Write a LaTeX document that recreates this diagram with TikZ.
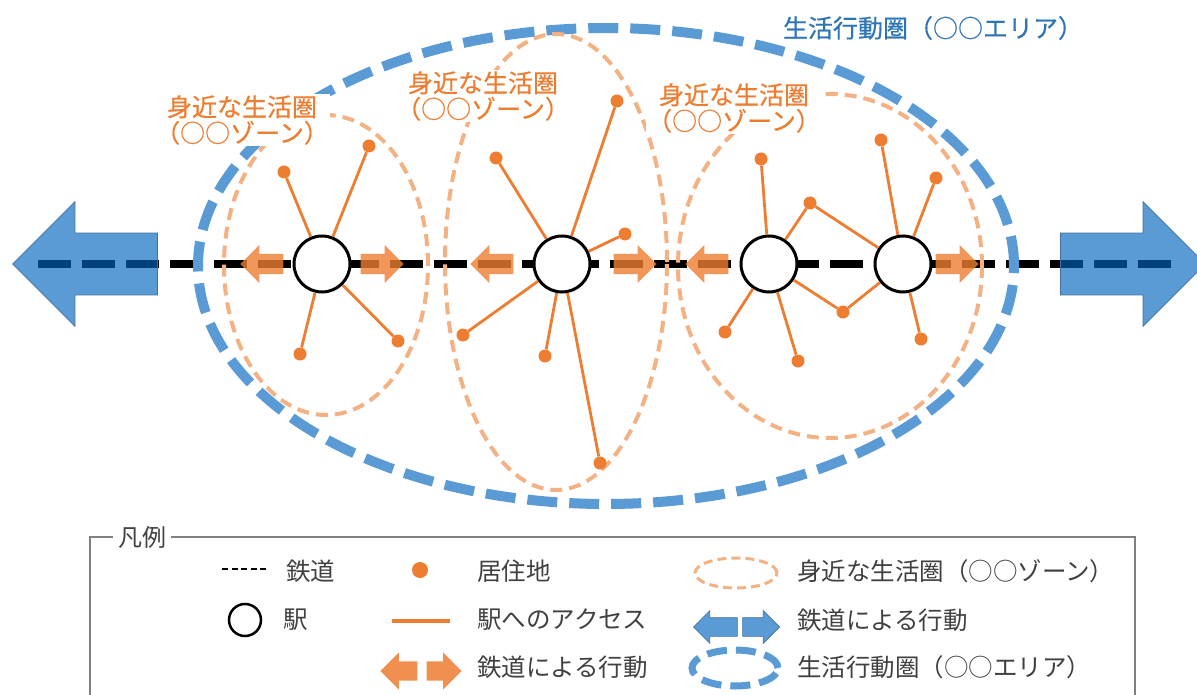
\documentclass[tikz,border=0pt]{standalone}
\usepackage{fontspec}
\setmainfont{Noto Sans CJK JP}
\newfontfamily\labelfont{Noto Sans CJK JP}[FakeBold=0.4]
\usepackage{tikz}
\usetikzlibrary{positioning,shapes.geometric,shapes.arrows}
\definecolor{accessorange}{HTML}{ED7D31}
\definecolor{zoneorange}{HTML}{F4B183}
\definecolor{areablue}{HTML}{5B9BD5}
\definecolor{trainblue}{HTML}{0365BE}
\definecolor{arrowedge}{HTML}{41719C}
\definecolor{labelblue}{HTML}{2E75B6}
\definecolor{legendgray}{HTML}{404040}

\begin{document}
\begin{tikzpicture}[x=1pt, y=-1pt,
  station/.style={circle, draw=black, line width=3pt, fill=white, minimum size=56pt, inner sep=0pt},
  home/.style={circle, fill=accessorange, minimum size=13pt, inner sep=0pt},
  access/.style={accessorange, line width=2.8pt},
  zone/.style={ellipse, draw=zoneorange, line width=4pt, dash pattern=on 12pt off 7pt, inner sep=0pt},
  area/.style={ellipse, draw=areablue, line width=10pt, dash pattern=on 30pt off 12pt, inner sep=0pt},
  rail/.style={black, line width=8pt, dash pattern=on 33pt off 11pt},
  railmove/.style={single arrow, fill=accessorange, fill opacity=0.8, minimum height=43pt, minimum width=38pt, single arrow head extend=9pt, inner xsep=0pt, inner ysep=10pt, anchor=tip},
  trainmove/.style={single arrow, fill=trainblue, fill opacity=0.65, draw=arrowedge, line width=0.8pt, minimum height=145pt, minimum width=124pt, single arrow head extend=31.5pt, inner xsep=0pt, inner ysep=30.5pt},
  zonelabel/.style={fill=white, text=accessorange, align=center, font=\labelfont\fontsize{25}{26}\selectfont, inner sep=1pt},
  arealabel/.style={fill=white, text=labelblue, font=\labelfont\fontsize{25}{26}\selectfont, inner sep=2pt},
  legtext/.style={text=legendgray, font=\fontsize{24.5}{26}\selectfont, anchor=west, inner sep=0pt}
]
  \useasboundingbox (0,0) rectangle (1197,695);

  % railway
  \coordinate (railW) at (38,264);
  \coordinate (railE) at (1176,264);
  \draw[rail] (railW) -- (railE);

  % living areas
  \node[area, minimum width=816pt, minimum height=476pt] (area) at (606,266) {};
  \node[zone, minimum width=204pt, minimum height=300pt] (zone1) at (326,265) {};
  \node[zone, minimum width=222pt, minimum height=456pt] (zone2) at (556,262) {};
  \node[zone, minimum width=304pt, minimum height=344pt] (zone3) at (830,266) {};

  \node[arealabel] (arealab) at (933,28) {生活行動圏（○○エリア）};
  \node[zonelabel] (zonelab1) at (242,120) {身近な生活圏\\（○○ゾーン）};
  \node[zonelabel] (zonelab2) at (483,96) {身近な生活圏\\（○○ゾーン）};
  \node[zonelabel] (zonelab3) at (734,108) {身近な生活圏\\（○○ゾーン）};

  % stations and homes
  \node[station] (s1) at (322,264) {};
  \node[station] (s2) at (562,264) {};
  \node[station] (s3) at (769,264) {};
  \node[station] (s4) at (903,264) {};

  \node[home] (h11) at (284,172) {};
  \node[home] (h12) at (369,146) {};
  \node[home] (h13) at (300,354) {};
  \node[home] (h14) at (398,341) {};
  \node[home] (h21) at (496,158) {};
  \node[home] (h22) at (617,101) {};
  \node[home] (h23) at (625,234) {};
  \node[home] (h24) at (463,335) {};
  \node[home] (h25) at (545,356) {};
  \node[home] (h26) at (600,463) {};
  \node[home] (h31) at (761,159) {};
  \node[home] (h32) at (810,203) {};
  \node[home] (h33) at (725,332) {};
  \node[home] (h34) at (798,361) {};
  \node[home] (h35) at (843,312) {};
  \node[home] (h41) at (881,140) {};
  \node[home] (h42) at (936,178) {};
  \node[home] (h43) at (921,339) {};

  \draw[access] (s1) -- (h11);
  \draw[access] (s1) -- (h12);
  \draw[access] (s1) -- (h13);
  \draw[access] (s1) -- (h14);
  \draw[access] (s2) -- (h21);
  \draw[access] (s2) -- (h22);
  \draw[access] (s2) -- (h23);
  \draw[access] (s2) -- (h24);
  \draw[access] (s2) -- (h25);
  \draw[access] (s2) -- (h26);
  \draw[access] (s3) -- (h31);
  \draw[access] (s3) -- (h32);
  \draw[access] (s3) -- (h33);
  \draw[access] (s3) -- (h34);
  \draw[access] (s3) -- (h35);
  \draw[access] (s4) -- (h32);
  \draw[access] (s4) -- (h35);
  \draw[access] (s4) -- (h41);
  \draw[access] (s4) -- (h42);
  \draw[access] (s4) -- (h43);

  % moves by rail
  \node[railmove, shape border rotate=180] (m1w) at (240,264) {};
  \node[railmove] (m1e) at (404,264) {};
  \node[railmove, shape border rotate=180] (m2w) at (470,264) {};
  \node[railmove] (m2e) at (657,264) {};
  \node[railmove, shape border rotate=180] (m3w) at (685,264) {};
  \node[railmove] (m4e) at (979,264) {};

  \node[trainmove, shape border rotate=180, anchor=tip] (trainW) at (12,264) {};
  \node[trainmove, anchor=tail] (trainE) at (1060,264) {};

  % legend
  \draw[gray, line width=1.2pt] (90,700) |- (1135,537) -- (1135,700);
  \node[text=legendgray, font=\fontsize{24}{26}\selectfont, fill=white, inner sep=5pt] (legtitle) at (142,537) {凡例};

  \coordinate (lrailA) at (222,569);
  \coordinate (lrailB) at (268,569);
  \draw[black, line width=2pt, dash pattern=on 6pt off 3.5pt] (lrailA) -- (lrailB);
  \node[legtext] (lrailtxt) at (286,571) {鉄道};
  \node[home, minimum size=16pt] (lhome) at (420,570) {};
  \node[legtext] (lhometxt) at (477,571) {居住地};
  \node[zone, line width=3pt, dash pattern=on 9pt off 5pt, minimum width=82pt, minimum height=30pt] (lzone) at (736,573) {};
  \node[legtext] (lzonetxt) at (797,571) {身近な生活圏（○○ゾーン）};

  \node[station, line width=2.5pt, minimum size=32pt] (lstation) at (245,620) {};
  \node[legtext] (lstationtxt) at (283,620) {駅};
  \coordinate (laccA) at (392,621);
  \coordinate (laccB) at (450,621);
  \draw[access, line width=4pt] (laccA) -- (laccB);
  \node[legtext] (lacctxt) at (477,620) {駅へのアクセス};
  \node[railmove, fill=areablue, fill opacity=1, draw=arrowedge, line width=0.6pt, minimum height=44pt, minimum width=32pt, single arrow head extend=7pt, inner ysep=9pt, shape border rotate=180] (ltrainW) at (693,627) {};
  \node[railmove, fill=areablue, fill opacity=1, draw=arrowedge, line width=0.6pt, minimum height=37pt, minimum width=32pt, single arrow head extend=7pt, inner ysep=9pt] (ltrainE) at (780,627) {};
  \node[legtext] (ltraintxt) at (797,620) {鉄道による行動};

  \node[railmove, fill opacity=1, fill=accessorange!85, minimum height=37pt, minimum width=37pt, single arrow head extend=9pt, inner ysep=9.5pt, shape border rotate=180] (lmoveW) at (380,671) {};
  \node[railmove, fill opacity=1, fill=accessorange!85, minimum height=35pt, minimum width=37pt, single arrow head extend=9pt, inner ysep=9.5pt] (lmoveE) at (462,671) {};
  \node[legtext] (lmovetxt) at (477,667) {鉄道による行動};
  \node[area, line width=7pt, dash pattern=on 20pt off 9pt, minimum width=86pt, minimum height=36pt] (larea) at (735,668) {};
  \node[legtext] (lareatxt) at (797,667) {生活行動圏（○○エリア）};
\end{tikzpicture}
\end{document}
